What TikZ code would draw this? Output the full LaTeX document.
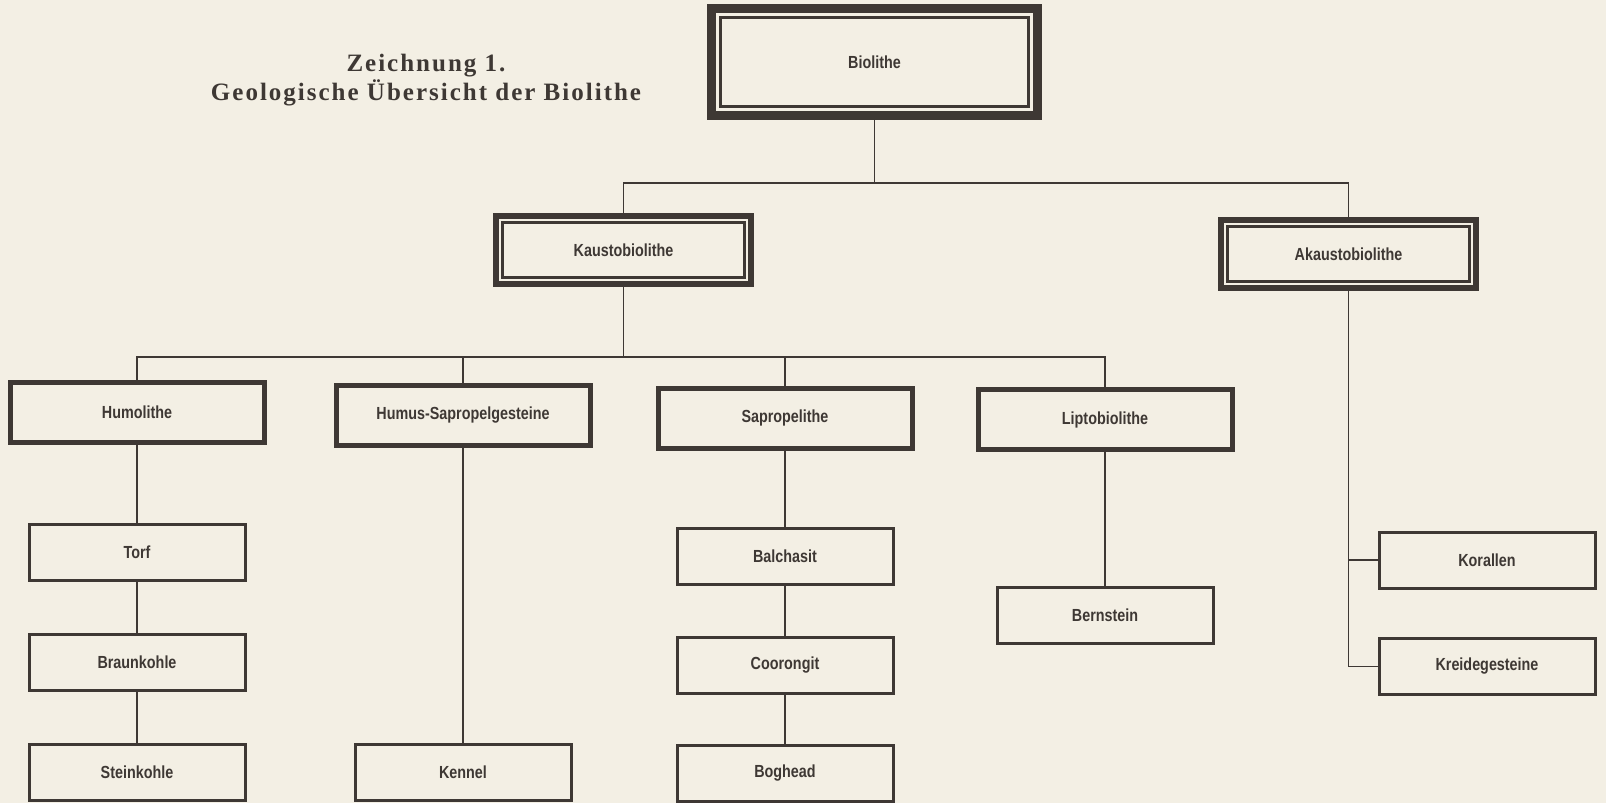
\documentclass[tikz,border=0pt]{standalone}
\usepackage{fontspec}
\usepackage{graphicx}
\usetikzlibrary{positioning,calc}
\newfontfamily\boxfont{Liberation Sans}
\newfontfamily\titlefont[LetterSpace=8]{Liberation Serif}
\definecolor{paper}{RGB}{243,239,228}
\definecolor{ink}{RGB}{62,56,52}
\newcommand{\lbl}[1]{\scalebox{0.82}[1]{#1}}

\begin{document}
\begin{tikzpicture}[x=1pt, y=-1pt, color=ink,
  every node/.style={inner sep=0pt, outer sep=0pt, font=\boxfont\bfseries\fontsize{17.5}{17.5}\selectfont},
  topbox/.style={draw, line width=9pt, minimum width=326pt, minimum height=107pt},
  midbox/.style={draw, line width=6pt, minimum width=255pt, minimum height=68pt},
  grpbox/.style={draw, line width=5pt, minimum width=254pt, minimum height=60pt},
  leafbox/.style={draw, line width=3pt, minimum width=216pt, minimum height=56pt},
  conn/.style={line width=1.6pt}]
\useasboundingbox (0,0) rectangle (1606,803);
\fill[paper] (0,0) rectangle (1606,803);

\node[font=\titlefont\bfseries\fontsize{25}{29}\selectfont, align=center] (title) at (426,80)
  {Zeichnung 1.\\Geologische Übersicht der Biolithe};

% top levels
\node[topbox] (bio) at (874.5,62) {\lbl{Biolithe}};
\node[midbox] (kaust) at (623.5,250) {\lbl{Kaustobiolithe}};
\node[midbox] (akaust) at (1348.5,254) {\lbl{Akaustobiolithe}};
\foreach \n/\d in {bio/9,kaust/6.5,akaust/6.5}
  \draw[line width=2.2pt] ($(\n.north west)+(\d,\d)$) rectangle ($(\n.south east)-(\d,\d)$);

% groups
\node[grpbox] (humo) at (137,412.5) {\lbl{Humolithe}};
\node[grpbox] (humsap) at (463,415.5) {\lbl{Humus-Sapropelgesteine}};
\node[grpbox] (sapro) at (785,418) {\lbl{Sapropelithe}};
\node[grpbox] (lipto) at (1105,419.5) {\lbl{Liptobiolithe}};

% leaves
\node[leafbox] (torf) at (137,552.5) {\lbl{Torf}};
\node[leafbox] (braun) at (137,662) {\lbl{Braunkohle}};
\node[leafbox] (stein) at (137,772) {\lbl{Steinkohle}};
\node[leafbox] (kennel) at (463,772) {\lbl{Kennel}};
\node[leafbox] (balch) at (785,556) {\lbl{Balchasit}};
\node[leafbox] (coor) at (785,665) {\lbl{Coorongit}};
\node[leafbox] (bog) at (785,773.5) {\lbl{Boghead}};
\node[leafbox] (bern) at (1105,615.5) {\lbl{Bernstein}};
\node[leafbox] (korall) at (1487,560) {\lbl{Korallen}};
\node[leafbox] (kreide) at (1487,666.5) {\lbl{Kreidegesteine}};

\coordinate (bar1) at (0,183);
\coordinate (bar2) at (0,357);
\draw[conn] (bio.south) -- (bio.south |- bar1);
\draw[conn] (kaust.north) |- (akaust.north |- bar1) -- (akaust.north);
\draw[conn] (kaust.south) -- (kaust.south |- bar2);
\draw[conn] (humo.north) |- (lipto.north |- bar2) -- (lipto.north);
\draw[conn] (humsap.north) -- (humsap.north |- bar2);
\draw[conn] (sapro.north) -- (sapro.north |- bar2);
\draw[conn] (humo.south) -- (torf.north) (torf.south) -- (braun.north) (braun.south) -- (stein.north);
\draw[conn] (humsap.south) -- (kennel.north);
\draw[conn] (sapro.south) -- (balch.north) (balch.south) -- (coor.north) (coor.south) -- (bog.north);
\draw[conn] (lipto.south) -- (bern.north);
\draw[conn] (akaust.south) |- (kreide.west);
\draw[conn] (korall.west) -- (korall.west -| akaust.south);
\end{tikzpicture}
\end{document}
